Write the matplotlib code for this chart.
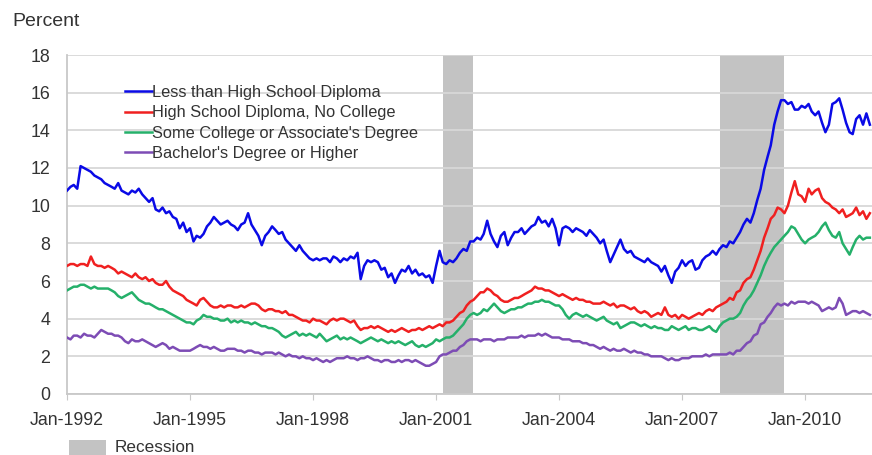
import numpy as np
import pandas as pd
import matplotlib
matplotlib.use('Agg')
import matplotlib.pyplot as plt
import matplotlib.dates as mdates
from matplotlib.patches import Rectangle

plt.rcParams['font.family'] = ['Liberation Sans', 'DejaVu Sans']

# monthly unemployment rates, Jan 1992 .. Aug 2011
less_hs = [
    10.8, 11.0, 11.1, 10.9, 12.1, 12.0, 11.9, 11.8, 11.6, 11.5, 11.4, 11.2,  # 1992
    11.1, 11.0, 10.9, 11.2, 10.8, 10.7, 10.6, 10.8, 10.7, 10.9, 10.6, 10.4,  # 1993
    10.2, 10.4, 9.8, 9.7, 9.9, 9.6, 9.7, 9.4, 9.3, 8.8, 9.1, 8.6,            # 1994
    8.8, 8.1, 8.4, 8.3, 8.5, 8.9, 9.1, 9.4, 9.2, 9.0, 9.1, 9.2,              # 1995
    9.0, 8.9, 8.7, 9.0, 9.1, 9.6, 9.0, 8.7, 8.4, 7.9, 8.4, 8.6,              # 1996
    8.9, 8.7, 8.5, 8.6, 8.2, 8.0, 7.8, 7.6, 7.9, 7.6, 7.4, 7.2,              # 1997
    7.1, 7.2, 7.1, 7.2, 7.2, 7.0, 7.3, 7.2, 7.0, 7.2, 7.1, 7.3,              # 1998
    7.2, 7.5, 6.1, 6.8, 7.1, 7.0, 7.1, 7.0, 6.6, 6.7, 6.2, 6.4,              # 1999
    5.9, 6.3, 6.6, 6.5, 6.8, 6.4, 6.6, 6.3, 6.4, 6.2, 6.3, 5.9,              # 2000
    6.8, 7.6, 7.0, 6.9, 7.1, 7.0, 7.2, 7.5, 7.7, 7.6, 8.1, 8.1,              # 2001
    8.3, 8.2, 8.5, 9.2, 8.5, 8.1, 7.8, 8.4, 8.6, 7.9, 8.3, 8.6,              # 2002
    8.6, 8.8, 8.5, 8.7, 8.9, 9.0, 9.4, 9.1, 9.2, 8.9, 9.3, 8.8,              # 2003
    7.9, 8.8, 8.9, 8.8, 8.6, 8.8, 8.7, 8.6, 8.4, 8.7, 8.5, 8.3,              # 2004
    8.0, 8.2, 7.6, 7.0, 7.4, 7.8, 8.2, 7.7, 7.5, 7.6, 7.3, 7.2,              # 2005
    7.1, 7.0, 7.2, 7.0, 6.9, 6.8, 6.5, 6.8, 6.3, 5.9, 6.5, 6.7,              # 2006
    7.1, 6.8, 7.0, 7.1, 6.6, 6.7, 7.1, 7.3, 7.4, 7.6, 7.4, 7.7,              # 2007
    7.9, 7.8, 8.1, 8.0, 8.3, 8.6, 9.0, 9.3, 9.1, 9.6, 10.3, 10.9,            # 2008
    11.9, 12.6, 13.2, 14.3, 15.0, 15.6, 15.6, 15.4, 15.5, 15.1, 15.1, 15.3,  # 2009
    15.2, 15.4, 15.0, 14.8, 15.0, 14.4, 13.9, 14.3, 15.4, 15.5, 15.7, 15.1,  # 2010
    14.4, 13.9, 13.8, 14.6, 14.8, 14.3, 14.9, 14.3,                          # 2011
]
hs_no_college = [
    6.8, 6.9, 6.9, 6.8, 6.9, 6.9, 6.8, 7.3, 6.9, 6.8, 6.8, 6.7,
    6.8, 6.7, 6.6, 6.4, 6.5, 6.4, 6.3, 6.2, 6.4, 6.2, 6.1, 6.2,
    6.0, 6.1, 5.9, 5.8, 5.8, 6.0, 5.7, 5.5, 5.4, 5.3, 5.2, 5.0,
    4.9, 4.8, 4.7, 5.0, 5.1, 4.9, 4.7, 4.6, 4.6, 4.7, 4.6, 4.7,
    4.7, 4.6, 4.6, 4.7, 4.6, 4.7, 4.8, 4.8, 4.7, 4.5, 4.4, 4.5,
    4.5, 4.4, 4.4, 4.3, 4.4, 4.2, 4.2, 4.1, 4.0, 3.9, 3.9, 3.8,
    4.0, 3.9, 3.9, 3.8, 3.7, 3.9, 4.0, 3.9, 4.0, 4.0, 3.9, 3.8,
    3.9, 3.6, 3.4, 3.5, 3.5, 3.6, 3.5, 3.6, 3.5, 3.4, 3.3, 3.4,
    3.3, 3.4, 3.5, 3.4, 3.3, 3.4, 3.4, 3.5, 3.4, 3.5, 3.6, 3.5,
    3.6, 3.7, 3.6, 3.8, 3.8, 3.9, 4.1, 4.3, 4.4, 4.7, 4.9, 5.0,
    5.2, 5.4, 5.4, 5.6, 5.5, 5.3, 5.2, 5.0, 4.9, 4.9, 5.0, 5.1,
    5.1, 5.2, 5.3, 5.4, 5.5, 5.7, 5.6, 5.6, 5.5, 5.5, 5.4, 5.3,
    5.2, 5.3, 5.2, 5.1, 5.0, 5.1, 5.0, 5.0, 4.9, 4.9, 4.8, 4.8,
    4.8, 4.9, 4.8, 4.7, 4.8, 4.6, 4.7, 4.7, 4.6, 4.5, 4.6, 4.4,
    4.3, 4.4, 4.3, 4.1, 4.2, 4.3, 4.2, 4.6, 4.2, 4.1, 4.2, 4.0,
    4.2, 4.1, 4.0, 4.1, 4.2, 4.3, 4.2, 4.4, 4.5, 4.4, 4.6, 4.7,
    4.8, 4.9, 5.1, 5.0, 5.4, 5.5, 5.9, 6.1, 6.2, 6.6, 7.1, 7.6,
    8.3, 8.8, 9.3, 9.5, 9.9, 9.8, 9.6, 10.0, 10.7, 11.3, 10.6, 10.5,
    10.2, 10.9, 10.6, 10.8, 10.9, 10.4, 10.2, 10.1, 9.9, 9.8, 9.6, 9.8,
    9.4, 9.5, 9.6, 9.9, 9.5, 9.7, 9.3, 9.6,
]
some_college = [
    5.5, 5.6, 5.7, 5.7, 5.8, 5.8, 5.7, 5.6, 5.7, 5.6, 5.6, 5.6,
    5.6, 5.5, 5.4, 5.2, 5.1, 5.2, 5.3, 5.4, 5.2, 5.0, 4.9, 4.8,
    4.8, 4.7, 4.6, 4.5, 4.5, 4.4, 4.3, 4.2, 4.1, 4.0, 3.9, 3.8,
    3.8, 3.7, 3.9, 4.0, 4.2, 4.1, 4.1, 4.0, 4.0, 3.9, 3.9, 4.0,
    3.8, 3.9, 3.8, 3.9, 3.8, 3.8, 3.7, 3.8, 3.7, 3.6, 3.6, 3.5,
    3.5, 3.4, 3.3, 3.1, 3.0, 3.1, 3.2, 3.3, 3.1, 3.2, 3.1, 3.2,
    3.1, 3.0, 3.2, 3.0, 2.8, 2.9, 3.0, 3.1, 2.9, 3.0, 2.9, 3.0,
    2.9, 2.8, 2.7, 2.8, 2.9, 3.0, 2.9, 2.8, 2.9, 2.8, 2.7, 2.8,
    2.7, 2.8, 2.7, 2.6, 2.7, 2.8, 2.6, 2.5, 2.6, 2.5, 2.6, 2.7,
    2.9, 2.8, 2.9, 3.0, 3.0, 3.1, 3.3, 3.5, 3.7, 4.0, 4.2, 4.3,
    4.2, 4.3, 4.5, 4.4, 4.6, 4.8, 4.6, 4.4, 4.3, 4.4, 4.5, 4.5,
    4.6, 4.6, 4.7, 4.8, 4.8, 4.9, 4.9, 5.0, 4.9, 4.9, 4.8, 4.7,
    4.7, 4.5, 4.2, 4.0, 4.2, 4.3, 4.2, 4.1, 4.2, 4.1, 4.0, 3.9,
    4.0, 4.1, 3.9, 3.8, 3.7, 3.8, 3.5, 3.6, 3.7, 3.8, 3.8, 3.7,
    3.6, 3.7, 3.6, 3.5, 3.6, 3.5, 3.5, 3.4, 3.4, 3.6, 3.5, 3.4,
    3.5, 3.6, 3.4, 3.5, 3.5, 3.4, 3.4, 3.5, 3.6, 3.4, 3.3, 3.6,
    3.8, 3.9, 4.0, 4.0, 4.1, 4.3, 4.7, 5.0, 5.2, 5.5, 5.9, 6.3,
    6.8, 7.2, 7.5, 7.8, 8.0, 8.2, 8.4, 8.6, 8.9, 8.8, 8.5, 8.2,
    8.0, 8.2, 8.3, 8.4, 8.6, 8.9, 9.1, 8.7, 8.4, 8.3, 8.6, 8.0,
    7.7, 7.4, 7.8, 8.2, 8.4, 8.2, 8.3, 8.3,
]
bachelors = [
    3.0, 2.9, 3.1, 3.1, 3.0, 3.2, 3.1, 3.1, 3.0, 3.2, 3.4, 3.3,
    3.2, 3.2, 3.1, 3.1, 3.0, 2.8, 2.7, 2.9, 2.8, 2.8, 2.9, 2.8,
    2.7, 2.6, 2.5, 2.6, 2.7, 2.6, 2.4, 2.5, 2.4, 2.3, 2.3, 2.3,
    2.3, 2.4, 2.5, 2.6, 2.5, 2.5, 2.4, 2.5, 2.4, 2.3, 2.3, 2.4,
    2.4, 2.4, 2.3, 2.3, 2.2, 2.3, 2.3, 2.2, 2.2, 2.1, 2.2, 2.2,
    2.2, 2.1, 2.2, 2.1, 2.0, 2.1, 2.0, 2.0, 1.9, 2.0, 1.9, 1.9,
    1.8, 1.9, 1.8, 1.7, 1.8, 1.7, 1.8, 1.9, 1.9, 1.9, 2.0, 1.9,
    1.9, 1.8, 1.9, 1.9, 2.0, 1.9, 1.8, 1.8, 1.7, 1.8, 1.8, 1.7,
    1.7, 1.8, 1.7, 1.8, 1.8, 1.7, 1.8, 1.7, 1.6, 1.5, 1.5, 1.6,
    1.7, 2.0, 2.1, 2.1, 2.2, 2.3, 2.3, 2.5, 2.6, 2.8, 2.9, 2.9,
    2.9, 2.8, 2.9, 2.9, 2.9, 2.8, 2.9, 2.9, 2.9, 3.0, 3.0, 3.0,
    3.0, 3.1, 3.0, 3.1, 3.1, 3.1, 3.2, 3.1, 3.2, 3.1, 3.0, 3.0,
    3.0, 2.9, 2.9, 2.9, 2.8, 2.8, 2.8, 2.7, 2.7, 2.6, 2.6, 2.5,
    2.4, 2.5, 2.4, 2.3, 2.4, 2.3, 2.3, 2.4, 2.3, 2.2, 2.3, 2.2,
    2.2, 2.1, 2.1, 2.0, 2.0, 2.0, 2.0, 1.9, 1.8, 1.9, 1.8, 1.8,
    1.9, 1.9, 1.9, 2.0, 2.0, 2.0, 2.0, 2.1, 2.0, 2.1, 2.1, 2.1,
    2.1, 2.1, 2.2, 2.1, 2.3, 2.3, 2.5, 2.7, 2.8, 3.1, 3.2, 3.7,
    3.8, 4.1, 4.3, 4.6, 4.8, 4.7, 4.8, 4.7, 4.9, 4.8, 4.9, 4.9,
    4.9, 4.8, 4.9, 4.8, 4.7, 4.4, 4.5, 4.6, 4.5, 4.6, 5.1, 4.8,
    4.2, 4.3, 4.4, 4.4, 4.3, 4.4, 4.3, 4.2,
]

series_labels = ["Less than High School Diploma",
                 "High School Diploma, No College",
                 "Some College or Associate's Degree",
                 "Bachelor's Degree or Higher"]
series_colors = ["#0a0ae6", "#f02020", "#25b06a", "#7d4cb5"]

recessions = [("2001-03-01", "2001-11-30"), ("2007-12-01", "2009-06-30")]
tick_years = [1992, 1995, 1998, 2001, 2004, 2007, 2010]

dates = pd.date_range("1992-01-01", periods=len(less_hs), freq="MS")

fig = plt.figure(figsize=(8.72, 4.55), dpi=100)
ax = fig.add_axes([67 / 872, 1 - 394 / 455, (872 - 67) / 872, (394 - 55) / 455])

for start, end in recessions:
    ax.axvspan(pd.Timestamp(start), pd.Timestamp(end), color="#c3c3c3", lw=0, zorder=1)

for vals, lab, col in zip([less_hs, hs_no_college, some_college, bachelors],
                          series_labels, series_colors):
    ax.plot(dates, vals, color=col, lw=1.8, label=lab, zorder=3)

ax.set_ylim(0, 18)
ax.set_yticks(range(0, 19, 2))
ax.set_xlim(pd.Timestamp("1992-01-01"), pd.Timestamp("2011-08-20"))
ax.set_xticks([pd.Timestamp(f"{y}-01-01") for y in tick_years])
ax.xaxis.set_major_formatter(mdates.DateFormatter("%b-%Y"))

ax.grid(axis="y", color="#d8d8d8", lw=1.3, zorder=0)
for s in ["top", "right"]:
    ax.spines[s].set_visible(False)
ax.spines["left"].set_color("#c8c8c8")
ax.spines["bottom"].set_color("#c8c8c8")
ax.spines["left"].set_linewidth(1.3)
ax.spines["bottom"].set_linewidth(1.3)
ax.tick_params(axis="y", length=0, labelsize=12.8, colors="#333333", pad=12)
ax.tick_params(axis="x", length=4, color="#c8c8c8", labelsize=12.8, colors="#333333", pad=9)

leg = ax.legend(loc="upper left", bbox_to_anchor=(125 / 872, 1 - 85 / 455),
                bbox_transform=fig.transFigure, frameon=False, fontsize=11.8,
                handlelength=1.65, handletextpad=0.0, labelspacing=0.33,
                borderpad=0, borderaxespad=0)
for t in leg.get_texts():
    t.set_color("#333333")

fig.text(12 / 872, 1 - 22 / 455, "Percent", fontsize=14, color="#333333", va="center")
fig.add_artist(Rectangle((69 / 872, 0), 37 / 872, 15 / 455, transform=fig.transFigure,
                         facecolor="#c3c3c3", edgecolor="none"))
fig.text(115 / 872, 1 - 448 / 455, "Recession", fontsize=12.3, color="#333333", va="center")

fig.savefig("out.png", dpi=100)
